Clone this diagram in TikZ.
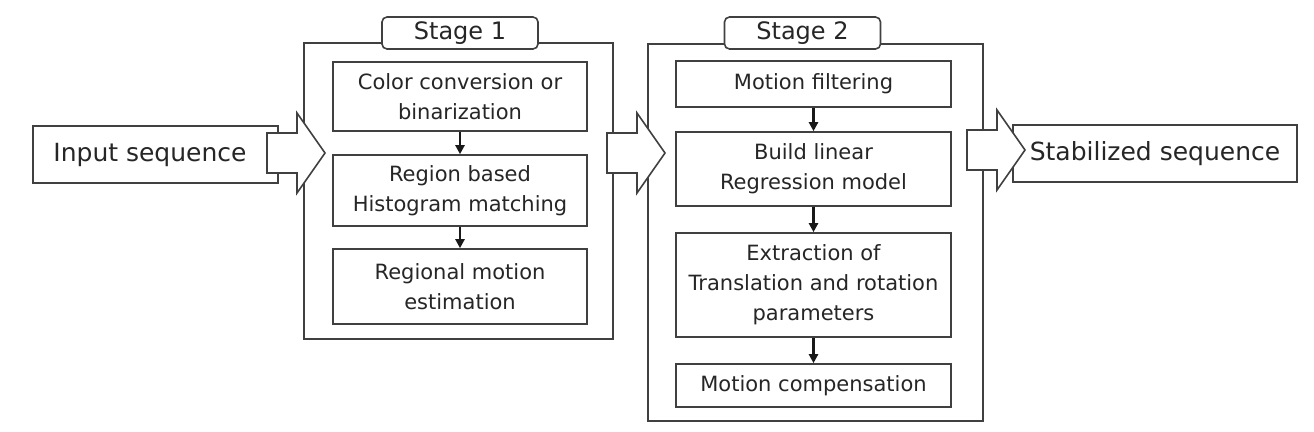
\documentclass[tikz,border=0pt]{standalone}
\usepackage{fontspec}
\setmainfont{DejaVu Sans}
\usetikzlibrary{arrows.meta}
\newcommand{\bigarrow}[1]{%
  \draw[hollow] (#1) ++(0,-20) -- ++(30,0) -- ++(0,-20) -- ++(28,40)
    -- ++(-28,40) -- ++(0,-20) -- ++(-30,0) -- cycle;}
\begin{document}
\begin{tikzpicture}[x=1pt,y=-1pt,
    box/.style={draw=black!75, line width=1.6pt, fill=white, align=center, inner sep=0pt,
        text=black!85, font=\fontsize{21}{30}\selectfont},
    endbox/.style={box, minimum height=57pt, font=\fontsize{25}{30}\selectfont},
    stagebox/.style={draw=black!75, line width=1.6pt},
    stagelabel/.style={box, rounded corners=5pt, minimum width=156pt, minimum height=32pt,
        font=\fontsize{24}{28}\selectfont},
    hollow/.style={draw=black!75, line width=1.6pt, fill=white},
    flow/.style={draw=black!90, line width=2.2pt, -{Triangle[length=9pt,width=9pt]}}]
    \useasboundingbox (0,0) rectangle (1314,431);
    % outer frames
    \node[stagebox, minimum width=309pt, minimum height=296pt] (stage1) at (458.5,191) {};
    \node[stagebox, minimum width=335pt, minimum height=377pt] (stage2) at (815.5,232.5) {};
    \node[stagelabel] (label1) at (460,33) {Stage 1};
    \node[stagelabel] (label2) at (802.5,33) {Stage 2};
    % stage 1
    \node[box, minimum width=254pt, minimum height=69pt] (c1) at (460,96.5) {Color conversion or\\binarization};
    \node[box, minimum width=254pt, minimum height=71pt] (c2) at (460,190.5) {Region based\\Histogram matching};
    \node[box, minimum width=254pt, minimum height=75pt] (c3) at (460,286.5) {Regional motion\\estimation};
    % stage 2
    \node[box, minimum width=275pt, minimum height=46pt] (m1) at (813.5,84) {Motion filtering};
    \node[box, minimum width=275pt, minimum height=74pt] (m2) at (813.5,169) {Build linear\\Regression model};
    \node[box, minimum width=275pt, minimum height=104pt] (m3) at (813.5,285) {Extraction of\\Translation and rotation\\parameters};
    \node[box, minimum width=275pt, minimum height=43pt] (m4) at (813.5,385.5) {Motion compensation};
    \foreach \a/\b in {c1/c2, c2/c3, m1/m2, m2/m3, m3/m4}
        \draw[flow] (\a.south) -- (\b.north);
    % input and output
    \node[endbox, minimum width=245pt] (input) at (155.5,154.5) {Input sequence\hspace*{11pt}};
    \node[endbox, minimum width=284pt] (output) at (1155,153.5) {Stabilized sequence};
    \coordinate (a1) at (267,153);
    \coordinate (a2) at (607,153);
    \coordinate (a3) at (967,150);
    \foreach \p in {a1, a2, a3} {
        \bigarrow{\p}
    }
\end{tikzpicture}
\end{document}
